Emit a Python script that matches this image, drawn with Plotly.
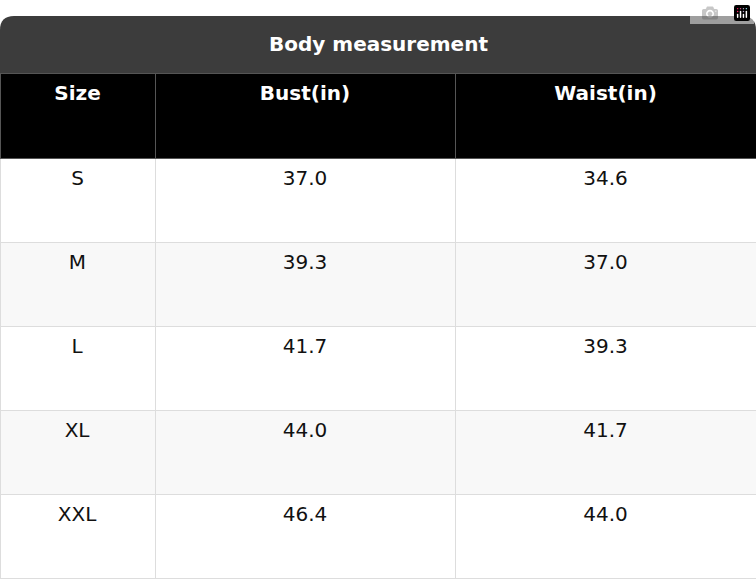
import plotly.graph_objects as go

title = "Body measurement"
columns = ["Size", "Bust(in)", "Waist(in)"]
sizes = ["S", "M", "L", "XL", "XXL"]
bust = ["37.0", "39.3", "41.7", "44.0", "46.4"]
waist = ["34.6", "37.0", "39.3", "41.7", "44.0"]

W, H = 756, 580
fills = ["#ffffff", "#f8f8f8", "#ffffff", "#f8f8f8", "#ffffff"]

def pad(vals):
    return ["<br>" + v for v in vals]

fig = go.Figure(go.Table(
    domain=dict(x=[0, 1], y=[0, 1 - 73 / H]),
    columnwidth=[155, 300, 301],
    header=dict(values=["<br><b>%s</b>" % c for c in columns], fill_color="#000000",
                line_color="#555555", align="center", height=85,
                font=dict(family="DejaVu Sans", size=20, color="white")),
    cells=dict(values=[pad(sizes), pad(bust), pad(waist)], fill_color=[fills] * 3,
               line_color="#dddddd", align="center", height=84,
               font=dict(family="DejaVu Sans", size=20, color="#111111")),
))

rx, ry = 14 / W, 14 / H
top, bot = 1 - 16 / H, 1 - 73 / H
path = (f"M 0 {bot} L 0 {top - ry} Q 0 {top} {rx} {top} L {1 - rx} {top} "
        f"Q 1 {top} 1 {top - ry} L 1 {bot} Z")
fig.add_shape(type="path", path=path, xref="paper", yref="paper",
              fillcolor="#3c3c3c", line=dict(width=0))
fig.add_annotation(text=f"<b>{title}</b>", x=0.5, y=1 - 44 / H, xref="paper", yref="paper",
                   xanchor="center", yanchor="middle", showarrow=False,
                   font=dict(family="DejaVu Sans", size=20, color="white"))
fig.update_layout(width=W, height=H, margin=dict(l=0, r=0, t=0, b=0),
                  paper_bgcolor="white", plot_bgcolor="white")
fig.write_html("out.html", post_script="document.body.style.margin='0';")
